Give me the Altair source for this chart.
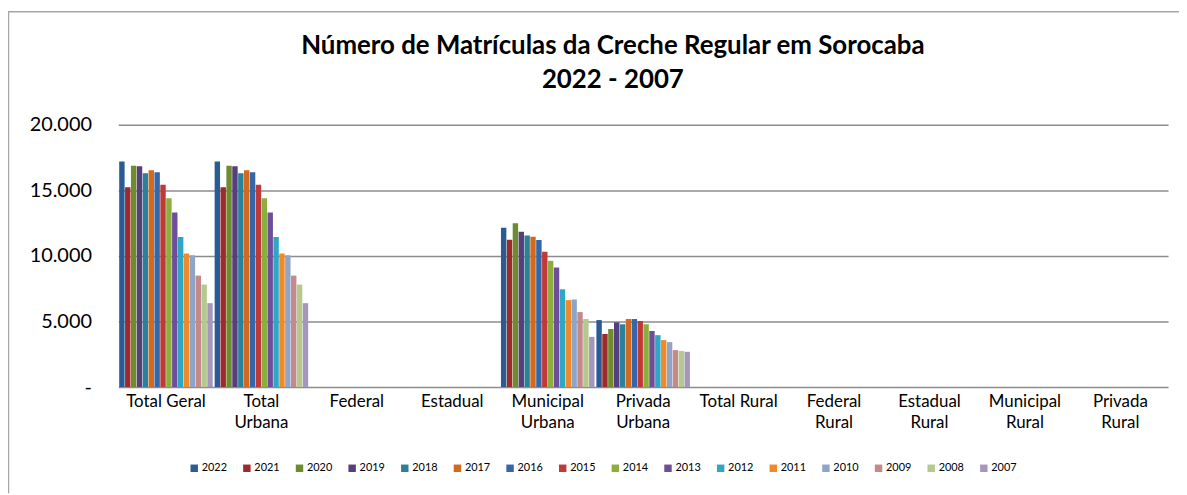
import altair as alt
import pandas as pd

title_lines = ["Número de Matrículas da Creche Regular em  Sorocaba", "2022 - 2007"]
categories = ["Total Geral", "Total\nUrbana", "Federal", "Estadual", "Municipal\nUrbana",
              "Privada\nUrbana", "Total Rural", "Federal\nRural", "Estadual\nRural",
              "Municipal\nRural", "Privada\nRural"]
years = ["2022", "2021", "2020", "2019", "2018", "2017", "2016", "2015",
         "2014", "2013", "2012", "2011", "2010", "2009", "2008", "2007"]

total_geral = [17200, 15250, 16890, 16840, 16310, 16540, 16390, 15430,
               14400, 13310, 11450, 10180, 10060, 8500, 7820, 6400]
total_urbana = [17200, 15250, 16890, 16840, 16310, 16540, 16390, 15430,
                14400, 13310, 11450, 10180, 10060, 8500, 7820, 6400]
federal = [0] * 16
estadual = [0] * 16
municipal_urbana = [12150, 11240, 12500, 11850, 11570, 11470, 11220, 10330,
                    9630, 9120, 7460, 6630, 6680, 5720, 5190, 3830]
privada_urbana = [5110, 4050, 4430, 4940, 4790, 5190, 5190, 5040,
                  4790, 4280, 3960, 3580, 3430, 2820, 2750, 2690]
total_rural = [0] * 16
federal_rural = [0] * 16
estadual_rural = [0] * 16
municipal_rural = [0] * 16
privada_rural = [0] * 16

colors = ["#2A5B94", "#9C2B2B", "#6E8B2E", "#563F7A", "#2B8199", "#D2691E",
          "#3466A8", "#BF3A37", "#8BAE3F", "#6E4E9A", "#2FA6C3", "#EE8A2A",
          "#8EA5C8", "#C48A89", "#B3C98D", "#A597BB"]

series = [total_geral, total_urbana, federal, estadual, municipal_urbana,
          privada_urbana, total_rural, federal_rural, estadual_rural,
          municipal_rural, privada_rural]

rows = []
for cat, vals in zip(categories, series):
    for yr, v in zip(years, vals):
        rows.append({"categoria": cat, "ano": yr, "matriculas": v})
df = pd.DataFrame(rows)

FONT = "Lato"
W, H = 1057, 264

bars = alt.Chart(df).mark_bar(clip=False).encode(
    x=alt.X("categoria:N", sort=categories,
            scale=alt.Scale(paddingInner=0.02, paddingOuter=0.01),
            axis=alt.Axis(title=None, labelAngle=0, ticks=False, domain=False,
                          labelFont=FONT, labelFontSize=17, labelColor="#000000",
                          labelPadding=7, labelLineHeight=21,
                          labelExpr="split(datum.label, '\\n')")),
    xOffset=alt.XOffset("ano:N", sort=years, scale=alt.Scale(paddingInner=0.08)),
    y=alt.Y("matriculas:Q", scale=alt.Scale(domain=[0, 20000], nice=False),
            axis=alt.Axis(title=None, values=[0, 5000, 10000, 15000, 20000],
                          ticks=False, domain=False, grid=True,
                          gridColor="#8C8C8C", gridWidth=1.5,
                          labelFont=FONT, labelFontSize=20, labelColor="#000000",
                          labelPadding=27,
                          labelExpr="datum.value == 0 ? '-' : replace(format(datum.value, ',.0f'), ',', '.')")),
    color=alt.Color("ano:N", sort=years,
                    scale=alt.Scale(domain=years, range=colors),
                    legend=alt.Legend(title=None, orient="none", legendX=71, legendY=340,
                                      direction="horizontal", columns=16,
                                      symbolType="square", symbolSize=56,
                                      symbolStrokeWidth=0, labelFont=FONT,
                                      labelFontSize=11, labelColor="#000000",
                                      labelOffset=2, columnPadding=14)),
)

title_df = pd.DataFrame({"linha": title_lines, "ordem": [0, 1]})
title1 = alt.Chart(title_df).transform_filter("datum.ordem == 0").mark_text(
    font=FONT, fontSize=26, fontWeight="bold", color="#000000", clip=False
).encode(text="linha:N", x=alt.value(498), y=alt.value(-79))
title2 = alt.Chart(title_df).transform_filter("datum.ordem == 1").mark_text(
    font=FONT, fontSize=26, fontWeight="bold", color="#000000", clip=False
).encode(text="linha:N", x=alt.value(498), y=alt.value(-45))

border_df = pd.DataFrame({"k": [1]})
top_border = alt.Chart(border_df).mark_rule(color="#A6A6A6", strokeWidth=1.5, clip=False).encode(
    x=alt.value(-111), x2=alt.value(W + 11), y=alt.value(-114)
)
left_border = alt.Chart(border_df).mark_rule(color="#A6A6A6", strokeWidth=1.5, clip=False).encode(
    x=alt.value(-110.5), y=alt.value(-114), y2=alt.value(H + 107)
)

chart = alt.layer(bars, title1, title2, top_border, left_border).properties(
    width=W, height=H,
    autosize=alt.AutoSizeParams(type="none"),
    padding={"left": 111, "top": 116, "right": 11, "bottom": 107},
    background="#FFFFFF",
).configure_view(stroke=None)

chart.save("out.html", embed_options={"renderer": "svg", "actions": False})
